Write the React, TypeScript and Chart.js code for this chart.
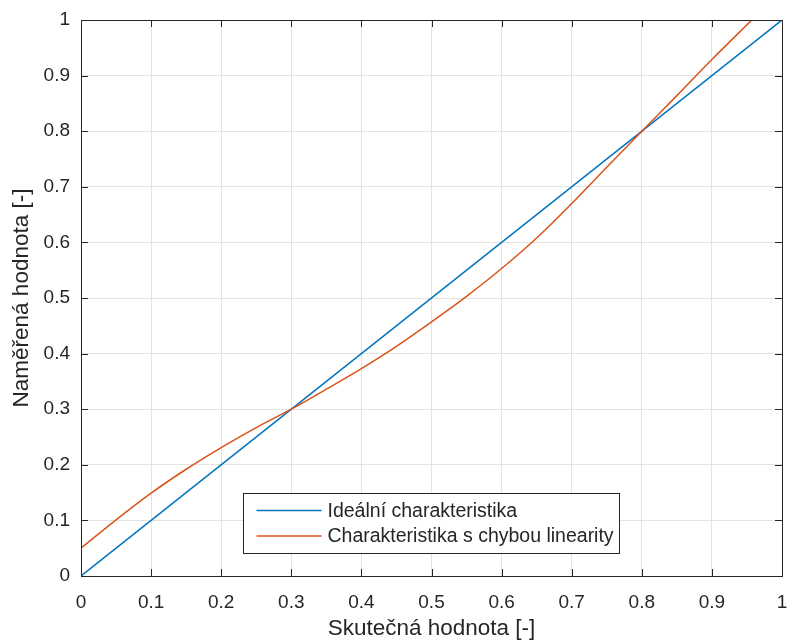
import React, { useEffect, useRef } from "react";
import { Chart, registerables } from "chart.js";

Chart.register(...registerables);

const xTickValues = [0, 0.1, 0.2, 0.3, 0.4, 0.5, 0.6, 0.7, 0.8, 0.9, 1];
const yTickValues = [0, 0.1, 0.2, 0.3, 0.4, 0.5, 0.6, 0.7, 0.8, 0.9, 1];

const idealX = [0, 1];
const idealY = [0, 1];

const errX = [0, 0.05, 0.1, 0.15, 0.2, 0.25, 0.3, 0.35, 0.4, 0.45, 0.5, 0.55, 0.6, 0.65, 0.7, 0.75, 0.8, 0.85, 0.9, 0.957];
const errY = [0.05, 0.101, 0.149, 0.192, 0.231, 0.267, 0.3, 0.336, 0.373, 0.413, 0.457, 0.503, 0.553, 0.608, 0.67, 0.735, 0.8, 0.864, 0.929, 1.0];

const seriesLabels = ["Ideální charakteristika", "Charakteristika s chybou linearity"];
const seriesColors = ["#0072BD", "#D95319"];
const xTitle = "Skutečná hodnota [-]";
const yTitle = "Naměřená hodnota [-]";

const FONT = "'Liberation Sans', Arial, Helvetica, sans-serif";
const AXIS_COLOR = "#262626";

const fmt = (v: number) => String(Math.round(v * 10) / 10);

const framePlugin = {
  id: "frame",
  afterDatasetsDraw(chart: any) {
    const { ctx, chartArea: ca, scales } = chart;
    ctx.save();
    ctx.strokeStyle = AXIS_COLOR;
    ctx.lineWidth = 1;
    const tl = 7;
    ctx.beginPath();
    for (const v of xTickValues) {
      const px = Math.round(scales.x.getPixelForValue(v)) + 0.5;
      ctx.moveTo(px, ca.bottom);
      ctx.lineTo(px, ca.bottom - tl);
      ctx.moveTo(px, ca.top);
      ctx.lineTo(px, ca.top + tl);
    }
    for (const v of yTickValues) {
      const py = Math.round(scales.y.getPixelForValue(v)) + 0.5;
      ctx.moveTo(ca.left, py);
      ctx.lineTo(ca.left + tl, py);
      ctx.moveTo(ca.right, py);
      ctx.lineTo(ca.right - tl, py);
    }
    ctx.stroke();
    ctx.strokeRect(Math.round(ca.left) + 0.5, Math.round(ca.top) + 0.5, Math.round(ca.right - ca.left), Math.round(ca.bottom - ca.top));
    ctx.restore();
  },
  afterDraw(chart: any) {
    const { ctx, chartArea: ca } = chart;
    const left = Math.round(ca.left + 162) + 0.5;
    const top = Math.round(ca.top + 473) + 0.5;
    const w = 376;
    const h = 60;
    ctx.save();
    ctx.fillStyle = "#ffffff";
    ctx.fillRect(left, top, w, h);
    ctx.strokeStyle = AXIS_COLOR;
    ctx.lineWidth = 1;
    ctx.strokeRect(left, top, w, h);
    ctx.font = `19.5px ${FONT}`;
    ctx.textBaseline = "middle";
    ctx.fillStyle = AXIS_COLOR;
    chart.data.datasets.forEach((ds: any, i: number) => {
      const y = top + 17 + i * 25.5;
      ctx.strokeStyle = ds.borderColor;
      ctx.lineWidth = 1.5;
      ctx.beginPath();
      ctx.moveTo(left + 13, y);
      ctx.lineTo(left + 78, y);
      ctx.stroke();
      ctx.fillText(ds.label, left + 84, y + 1);
    });
    ctx.restore();
  },
};

export default function App() {
  const ref = useRef<HTMLCanvasElement | null>(null);
  useEffect(() => {
    document.body.style.margin = "0";
    if (!ref.current) return;
    const chart = new Chart(ref.current, {
      type: "line",
      data: {
        datasets: [
          {
            label: seriesLabels[0],
            data: idealX.map((x, i) => ({ x, y: idealY[i] })),
            borderColor: seriesColors[0],
            borderWidth: 1.5,
            pointRadius: 0,
            fill: false,
            order: 2,
          },
          {
            label: seriesLabels[1],
            data: errX.map((x, i) => ({ x, y: errY[i] })),
            borderColor: seriesColors[1],
            borderWidth: 1.5,
            pointRadius: 0,
            fill: false,
            cubicInterpolationMode: "monotone",
            order: 1,
          },
        ],
      },
      options: {
        animation: false,
        responsive: true,
        maintainAspectRatio: false,
        layout: { padding: { left: 0, right: 5, top: 20, bottom: 0 } },
        plugins: { legend: { display: false }, tooltip: { enabled: false } },
        events: [],
        scales: {
          x: {
            type: "linear",
            min: 0,
            max: 1,
            afterBuildTicks: (s: any) => {
              s.ticks = xTickValues.map((v) => ({ value: v }));
            },
            afterFit: (s: any) => {
              s.height = 66;
              s.paddingLeft = 0;
              s.paddingRight = 0;
            },
            ticks: {
              callback: (v: any) => fmt(Number(v)),
              font: { family: FONT, size: 19 },
              color: AXIS_COLOR,
              padding: 15,
              maxRotation: 0,
              autoSkip: false,
            },
            grid: { color: "#e3e3e3", drawTicks: false, lineWidth: 1 },
            border: { display: false },
            title: {
              display: true,
              text: xTitle,
              font: { family: FONT, size: 22.5 },
              color: AXIS_COLOR,
              padding: { top: 0, bottom: 0 },
            },
          },
          y: {
            type: "linear",
            min: 0,
            max: 1,
            afterBuildTicks: (s: any) => {
              s.ticks = yTickValues.map((v) => ({ value: v }));
            },
            afterFit: (s: any) => {
              s.width = 81;
              s.paddingTop = 0;
              s.paddingBottom = 0;
            },
            ticks: {
              callback: (v: any) => fmt(Number(v)),
              font: { family: FONT, size: 19 },
              color: AXIS_COLOR,
              padding: 11,
              autoSkip: false,
            },
            grid: { color: "#e3e3e3", drawTicks: false, lineWidth: 1 },
            border: { display: false },
            title: {
              display: true,
              text: yTitle,
              font: { family: FONT, size: 22.5 },
              color: AXIS_COLOR,
              padding: { top: 8, bottom: 0 },
            },
          },
        },
      },
      plugins: [framePlugin],
    } as any);
    return () => chart.destroy();
  }, []);
  return (
    <div style={{ position: "fixed", left: 0, top: 0, width: 787, height: 642, background: "#fff" }}>
      <canvas ref={ref} />
    </div>
  );
}
